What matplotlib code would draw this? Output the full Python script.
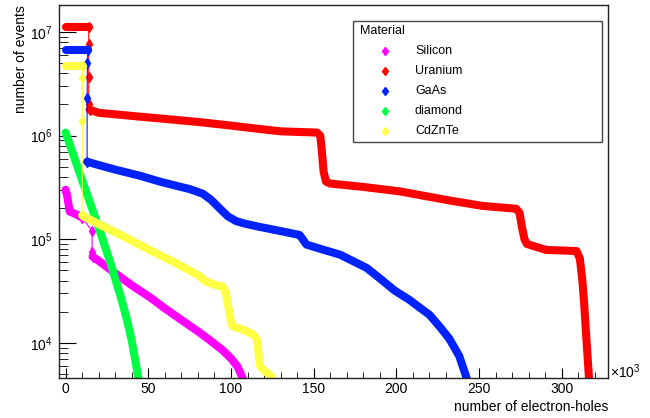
import matplotlib
matplotlib.use("Agg")
import matplotlib.pyplot as plt
from matplotlib.patches import Rectangle
from matplotlib.lines import Line2D
from matplotlib.ticker import LogLocator, NullFormatter, MultipleLocator

plt.rcParams['font.family'] = ['Liberation Sans', 'DejaVu Sans']
plt.rcParams['mathtext.default'] = 'regular'

# --- datos (x en miles de pares electron-hueco) ---
materiales = ['Silicon', 'Uranium', 'GaAs', 'diamond', 'CdZnTe']
colores = ['#ff00ff', '#ff0000', '#0022ff', '#00ff44', '#ffff44']

# Silicon
si_head_x = [0, 1, 2.5, 6, 10]
si_head_y = [3.0e5, 2.6e5, 1.85e5, 1.75e5, 1.62e5]
si_drop_x = [10, 16, 16, 16.3]
si_drop_y = [1.62e5, 1.2e5, 7.6e4, 6.8e4]
si_tail_x = [16.3, 20.6, 30, 40, 51, 61, 70, 81, 87, 95, 100, 104, 107]
si_tail_y = [6.8e4, 6.1e4, 4.7e4, 3.6e4, 2.76e4, 2.1e4, 1.67e4, 1.26e4, 1.07e4, 8.5e3, 7.1e3, 5.9e3, 4.6e3]

# Uranium
u_head_x = [0, 14]
u_head_y = [1.12e7, 1.12e7]
u_drop_x = [14, 14, 14, 14, 14.5]
u_drop_y = [1.12e7, 7.6e6, 3.7e6, 2.0e6, 1.78e6]
u_tail_x = [14.5, 20, 40, 60, 81, 100, 111, 130, 152, 154, 155, 156, 157.5, 160, 180, 202,
            232, 252, 272.5, 274.5, 276, 277.5, 279, 290.5, 300, 309, 311, 312.5, 313.5,
            314.5, 315.5, 316.5]
u_tail_y = [1.78e6, 1.66e6, 1.55e6, 1.45e6, 1.35e6, 1.25e6, 1.19e6, 1.1e6, 1.07e6, 1.0e6,
            7e5, 4.5e5, 3.6e5, 3.45e5, 3.2e5, 2.9e5, 2.37e5, 2.1e5, 1.97e5, 1.8e5, 1.3e5,
            1.0e5, 9.0e4, 7.9e4, 7.8e4, 7.7e4, 6.5e4, 4.0e4, 2.5e4, 1.4e4, 8e3, 4.6e3]

# GaAs
ga_head_x = [0, 13.5]
ga_head_y = [6.7e6, 6.7e6]
ga_drop_x = [13.5, 13.2, 13, 13]
ga_drop_y = [6.7e6, 5.0e6, 2.3e6, 5.6e5]
ga_tail_x = [13, 20, 30, 45, 57, 68, 75, 83, 88, 93, 98, 103, 108, 117, 130, 141.5, 143,
             145.6, 155, 166, 182, 190, 199, 208, 214, 220, 226, 232, 238, 242.5]
ga_tail_y = [5.6e5, 5.2e5, 4.7e5, 4.1e5, 3.6e5, 3.25e5, 3.05e5, 2.75e5, 2.4e5, 2.0e5,
             1.67e5, 1.5e5, 1.42e5, 1.32e5, 1.2e5, 1.1e5, 1.02e5, 8.9e4, 8.0e4, 7.1e4,
             5.3e4, 4.2e4, 3.2e4, 2.6e4, 2.2e4, 1.87e4, 1.45e4, 1.1e4, 7.5e3, 4.6e3]

# diamond
di_x = [0, 5, 10, 15, 20, 27, 33, 37, 40, 42, 44]
di_y = [1.07e6, 6.3e5, 3.7e5, 2.2e5, 1.3e5, 6e4, 2.9e4, 1.7e4, 1.05e4, 7e3, 4.6e3]

# CdZnTe
cd_head_x = [0, 10.3]
cd_head_y = [4.7e6, 4.7e6]
cd_drop_x = [10.3, 10.2, 10.1, 10]
cd_drop_y = [4.7e6, 3.6e6, 1.38e6, 1.7e5]
cd_tail_x = [10, 20, 32, 45, 55, 65, 71, 78, 81, 85, 90, 95, 97, 98.5, 100, 101, 107, 113,
             115.5, 116.5, 117.5, 120, 123, 125]
cd_tail_y = [1.7e5, 1.4e5, 1.13e5, 8.8e4, 7.3e4, 6.1e4, 5.4e4, 4.7e4, 4.4e4, 3.9e4, 3.65e4,
             3.5e4, 3.0e4, 2.2e4, 1.6e4, 1.45e4, 1.35e4, 1.22e4, 1.1e4, 8.5e3, 6e3, 5.4e3,
             5.0e3, 4.6e3]

series = [
    (si_head_x, si_head_y, si_drop_x, si_drop_y, si_tail_x, si_tail_y),
    (u_head_x, u_head_y, u_drop_x, u_drop_y, u_tail_x, u_tail_y),
    (ga_head_x, ga_head_y, ga_drop_x, ga_drop_y, ga_tail_x, ga_tail_y),
    ([], [], [], [], di_x, di_y),
    (cd_head_x, cd_head_y, cd_drop_x, cd_drop_y, cd_tail_x, cd_tail_y),
]

W, H = 650, 418
fig = plt.figure(figsize=(6.5, 4.18), dpi=100)
ax = fig.add_axes([59 / W, 1 - 378 / H, (608 - 59) / W, (378 - 5) / H])

# dibujar cada material: tramos densos gruesos y saltos con marcadores
for (hx, hy, dx, dy, tx, ty), c in zip(series, colores):
    if hx:
        ax.plot(hx, hy, color=c, lw=5.8, solid_capstyle='round', solid_joinstyle='round')
    if dx:
        ax.plot(dx, dy, color=c, lw=0.8, marker='d', ms=5, mec=c, mfc=c)
    ax.plot(tx, ty, color=c, lw=5.8, solid_capstyle='round', solid_joinstyle='round')

ax.set_yscale('log')
ax.set_xlim(-4, 328)
ax.set_ylim(4590, 1.82e7)

# ejes estilo ROOT
ax.xaxis.set_major_locator(MultipleLocator(50))
ax.xaxis.set_minor_locator(MultipleLocator(10))
ax.yaxis.set_major_locator(LogLocator(base=10, numticks=20))
ax.yaxis.set_minor_locator(LogLocator(base=10, subs=range(2, 10), numticks=20))
ax.yaxis.set_minor_formatter(NullFormatter())
ax.tick_params(axis='both', which='both', direction='in', top=False, right=False, labelsize=10)
ax.tick_params(axis='y', which='major', length=12, pad=4.5)
ax.tick_params(axis='y', which='minor', length=6.5)
ax.tick_params(axis='x', which='major', length=7.5, pad=3)
ax.tick_params(axis='x', which='minor', length=4)
for s in ax.spines.values():
    s.set_color('#222222')
    s.set_linewidth(1)

fig.text(608 / W, 1 - 407 / H, 'number of electron-holes', ha='right', va='center', fontsize=10)
fig.text(21 / W, 1 - 5 / H, 'number of events', rotation=90, ha='center', va='top', fontsize=10)
fig.text(610 / W, 1 - 372 / H, r'$\times10^{3}$', ha='left', va='center', fontsize=10)

# leyenda dibujada a mano
fig.add_artist(Rectangle((353 / W, 1 - 142 / H), (602 - 353) / W, (142 - 21) / H,
                         transform=fig.transFigure, fill=False, ec='#444444', lw=1))
fig.text(360 / W, 1 - 31 / H, 'Material', ha='left', va='center', fontsize=9)
filas = [51, 71, 91, 111, 131]
for nombre, c, fy in zip(materiales, colores, filas):
    fig.add_artist(Line2D([385 / W], [1 - fy / H], transform=fig.transFigure,
                          marker='d', ms=4.5, color=c, lw=0))
    fig.text(415 / W, 1 - fy / H, nombre, ha='left', va='center', fontsize=9)

fig.savefig('out.png', dpi=100)
